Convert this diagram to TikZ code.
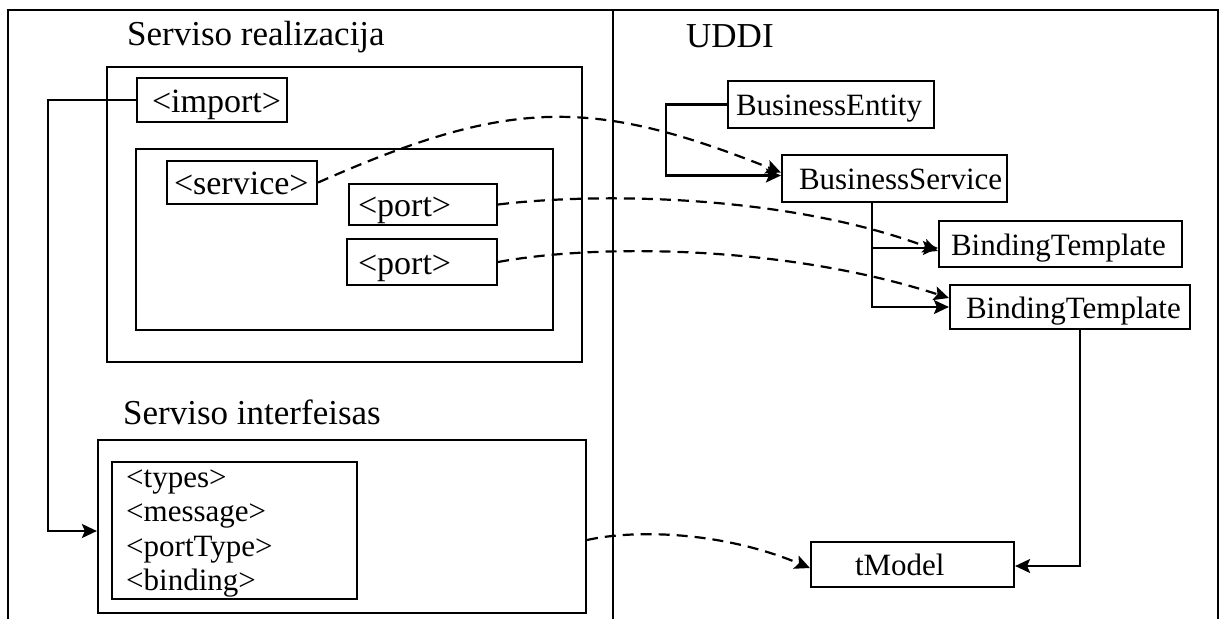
\documentclass[tikz,border=0pt]{standalone}
\usepackage{fontspec}
\setmainfont{Liberation Serif}
\usetikzlibrary{arrows.meta,calc}
\newcommand\titlefont{\fontsize{35}{40}\selectfont}
\newcommand\leftboxfont{\fontsize{34}{40}\selectfont}
\newcommand\rightboxfont{\fontsize{31}{36}\selectfont}
% fixed-width, left-aligned label inside a box
\newcommand\fixw[2]{\makebox[#1][l]{#2}}
\begin{document}
\begin{tikzpicture}[x=1pt,y=-1pt,
  lw/.style={line width=2.2pt},
  frame/.style={draw, line width=2.2pt, inner sep=0pt},
  box/.style={draw, line width=2.2pt, inner ysep=0pt, text depth=0pt},
  lbox/.style={box, font=\leftboxfont, text height=24pt},
  rbox/.style={box, font=\rightboxfont, text height=22pt},
  title/.style={anchor=base west, inner sep=0pt, font=\titlefont},
  item/.style={anchor=base west, inner sep=0pt, font=\rightboxfont},
  conn/.style={line width=2.2pt, -{Stealth[length=15pt,width=14pt,inset=3pt]}},
  dconn/.style={conn, dash pattern=on 11pt off 7pt}]
\useasboundingbox (0,0) rectangle (1224,619);

% page frame and column divider
\draw[lw] (8,619) -- (8,10) -- (1218,10) -- (1218,619);
\draw[lw] (613,10) -- (613,619);

% left column: service implementation
\node[title] (realtitle) at (127,45) {Serviso realizacija};
\node[frame, minimum width=475pt, minimum height=295pt] (real) at (344.5,214.5) {};
\node[lbox, inner xsep=15pt, minimum height=44pt] (imp) at (212,100) {\fixw{120pt}{<import>}};
\node[frame, minimum width=417pt, minimum height=181pt] (svcgroup) at (344.5,239.5) {};
\node[lbox, inner xsep=7pt, minimum height=43pt] (svc) at (242,182.5) {\fixw{136pt}{<service>}};
\node[lbox, inner xsep=9pt, minimum height=41pt] (port1) at (423,204.5) {\fixw{130pt}{<port>}};
\node[lbox, inner xsep=11pt, minimum height=46pt] (port2) at (422,262) {\fixw{128pt}{<port>}};

% left column: service interface
\node[title] (ifacetitle) at (123,424) {Serviso interfeisas};
\node[frame, minimum width=488pt, minimum height=173pt] (iface) at (342,526.5) {};
\node[frame, minimum width=245pt, minimum height=137pt] (list) at (234.5,530.5) {};
\node[item] (t1) at (126,487) {<types>};
\node[item] (t2) at (126,521.5) {<message>};
\node[item] (t3) at (126,556) {<portType>};
\node[item] (t4) at (126,590) {<binding>};

% right column: registry entries
\node[title] (udditile) at (686,47) {UDDI};
\node[rbox, inner xsep=8pt, minimum height=47pt] (be) at (831,104.5) {\fixw{190pt}{BusinessEntity}};
\node[rbox, inner xsep=17pt, minimum height=47pt] (bs) at (894.5,178.5) {\fixw{191pt}{BusinessService}};
\node[rbox, inner xsep=12pt, minimum height=46pt] (bt1) at (1060.5,244) {\fixw{219pt}{BindingTemplate}};
\node[rbox, inner xsep=16pt, minimum height=44pt] (bt2) at (1070,307) {\fixw{208pt}{BindingTemplate}};
\node[rbox, inner xsep=44pt, minimum height=45pt] (tm) at (912.5,564.5) {\fixw{115pt}{tModel}};

% solid containment links
\coordinate (impbend) at (48,100);
\draw[conn] (imp.west) -- (impbend) |- ([yshift=-4.5pt]iface.west);
\draw[conn] (be.west) -- ++(-61,0) |- ([yshift=3pt]bs.west);
\coordinate (trunk) at ([xshift=-22.5pt]bs.south);
\coordinate (bt1in) at ([yshift=-4pt]bt1.west);
\draw[conn] (trunk) |- (bt2.west);
\draw[conn] (trunk |- bt1in) -- (bt1in);
\draw[conn] ([xshift=10pt]bt2.south) |- ([yshift=-1.5pt]tm.east);

% dashed mapping links
\draw[dconn] (svc.east) .. controls +(190,-84) and +(-190,-76) .. ([yshift=6pt]bs.west);
\draw[dconn] (port1.east) .. controls +(103,-12.5) and +(-149,-56) .. ([yshift=-7pt]bt1.west);
\draw[dconn] (port2.east) .. controls +(103,-19) and +(-160,-52) .. ([yshift=9pt]bt2.west);
\draw[dconn] ([yshift=-13.5pt]iface.east) .. controls +(44,-10) and +(-91,-38) .. ([yshift=-3.5pt]tm.west);
\end{tikzpicture}
\end{document}
